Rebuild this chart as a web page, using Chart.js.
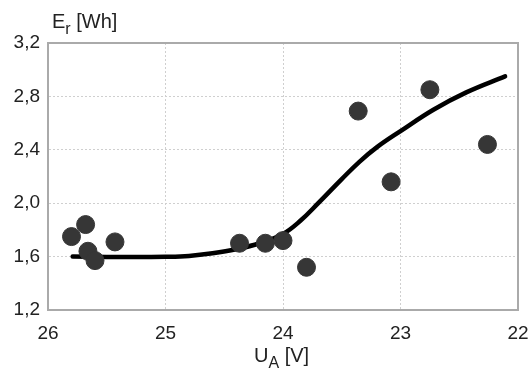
<!DOCTYPE html>
<html>
<head>
<meta charset="utf-8">
<script src="https://cdn.jsdelivr.net/npm/chart.js@4/dist/chart.umd.min.js"></script>
<style>
  html, body { margin: 0; padding: 0; background: #fff; }
  #wrap { width: 532px; height: 370px; }
</style>
</head>
<body>
<div id="wrap"><canvas id="energyChart" width="532" height="370"></canvas></div>
<script>
// measured points: voltage U_A [V] vs energy E_r [Wh]
const voltage = [25.80, 25.68, 25.66, 25.60, 25.43, 24.37, 24.15, 24.00, 23.80, 23.36, 23.08, 22.75, 22.26];
const energy  = [1.75, 1.84, 1.64, 1.57, 1.71, 1.70, 1.70, 1.72, 1.52, 2.69, 2.16, 2.85, 2.44];

// fitted trend curve
const fitVoltage = [25.79, 25.5, 25.2, 25.0, 24.8, 24.6, 24.4, 24.2, 24.0, 23.85, 23.7, 23.5, 23.35, 23.2, 23.0, 22.72, 22.44, 22.11];
const fitEnergy  = [1.60, 1.597, 1.597, 1.598, 1.605, 1.625, 1.655, 1.70, 1.77, 1.87, 2.00, 2.18, 2.31, 2.42, 2.54, 2.70, 2.83, 2.95];

const xTicks = [26, 25, 24, 23, 22];
const yTicks = [1.2, 1.6, 2.0, 2.4, 2.8, 3.2];

const FONT = 'Liberation Sans, Arial, sans-serif';

// axis titles with subscripts
const axisTitles = {
  id: 'axisTitles',
  afterDraw(chart) {
    const ctx = chart.ctx;
    ctx.save();
    ctx.fillStyle = '#222';
    ctx.textBaseline = 'alphabetic';
    ctx.textAlign = 'left';

    const drawSub = (x, y, main, sub, rest) => {
      ctx.font = '20px ' + FONT;
      ctx.fillText(main, x, y);
      x += ctx.measureText(main).width;
      ctx.font = '16px ' + FONT;
      ctx.fillText(sub, x, y + 6);
      x += ctx.measureText(sub).width;
      ctx.font = '20px ' + FONT;
      ctx.fillText(rest, x, y);
    };

    drawSub(52, 28, 'E', 'r', ' [Wh]');
    drawSub(254, 362, 'U', 'A', ' [V]');
    ctx.restore();
  }
};

new Chart(document.getElementById('energyChart'), {
  type: 'scatter',
  data: {
    datasets: [
      {
        label: 'fit',
        type: 'line',
        data: fitVoltage.map((v, i) => ({ x: v, y: fitEnergy[i] })),
        borderColor: '#000',
        borderWidth: 4.5,
        borderCapStyle: 'round',
        pointRadius: 0,
        fill: false,
        tension: 0.4,
        order: 2
      },
      {
        label: 'measured',
        data: voltage.map((v, i) => ({ x: v, y: energy[i] })),
        backgroundColor: '#363636',
        borderColor: '#363636',
        pointRadius: 9,
        order: 1
      }
    ]
  },
  options: {
    responsive: false,
    animation: false,
    layout: { padding: { top: 43, right: 14, left: 0, bottom: 0 } },
    plugins: {
      legend: { display: false },
      tooltip: { enabled: false }
    },
    scales: {
      x: {
        type: 'linear',
        reverse: true,
        min: 22,
        max: 26,
        afterBuildTicks: (scale) => { scale.ticks = xTicks.map(v => ({ value: v })); },
        afterFit: (scale) => {
          scale.height = 60;
          // edge labels may overhang the plot area
          scale.paddingLeft = 0;
          scale.paddingRight = 0;
        },
        ticks: {
          color: '#222',
          font: { family: FONT, size: 19 },
          padding: 12,
          maxRotation: 0,
          callback: (v) => String(v)
        },
        grid: {
          color: '#cfcfcf',
          drawTicks: false,
          lineWidth: 1
        },
        border: { color: '#999', width: 2, dash: [2, 2] }
      },
      y: {
        min: 1.2,
        max: 3.2,
        afterBuildTicks: (scale) => { scale.ticks = yTicks.map(v => ({ value: v })); },
        afterFit: (scale) => { scale.width = 48; },
        ticks: {
          color: '#222',
          font: { family: FONT, size: 19 },
          padding: 8,
          callback: (v) => v.toFixed(1).replace('.', ',')
        },
        grid: {
          color: '#cfcfcf',
          drawTicks: false,
          lineWidth: 1
        },
        border: { color: '#999', width: 2, dash: [2, 2] }
      }
    }
  },
  plugins: [axisTitles, {
    // solid frame round the plot area
    id: 'frame',
    beforeDatasetsDraw(chart) {
      const { ctx, chartArea: a } = chart;
      ctx.save();
      ctx.strokeStyle = '#aaa';
      ctx.lineWidth = 2;
      ctx.strokeRect(a.left, a.top, a.right - a.left, a.bottom - a.top);
      ctx.restore();
    }
  }]
});
</script>
</body>
</html>
